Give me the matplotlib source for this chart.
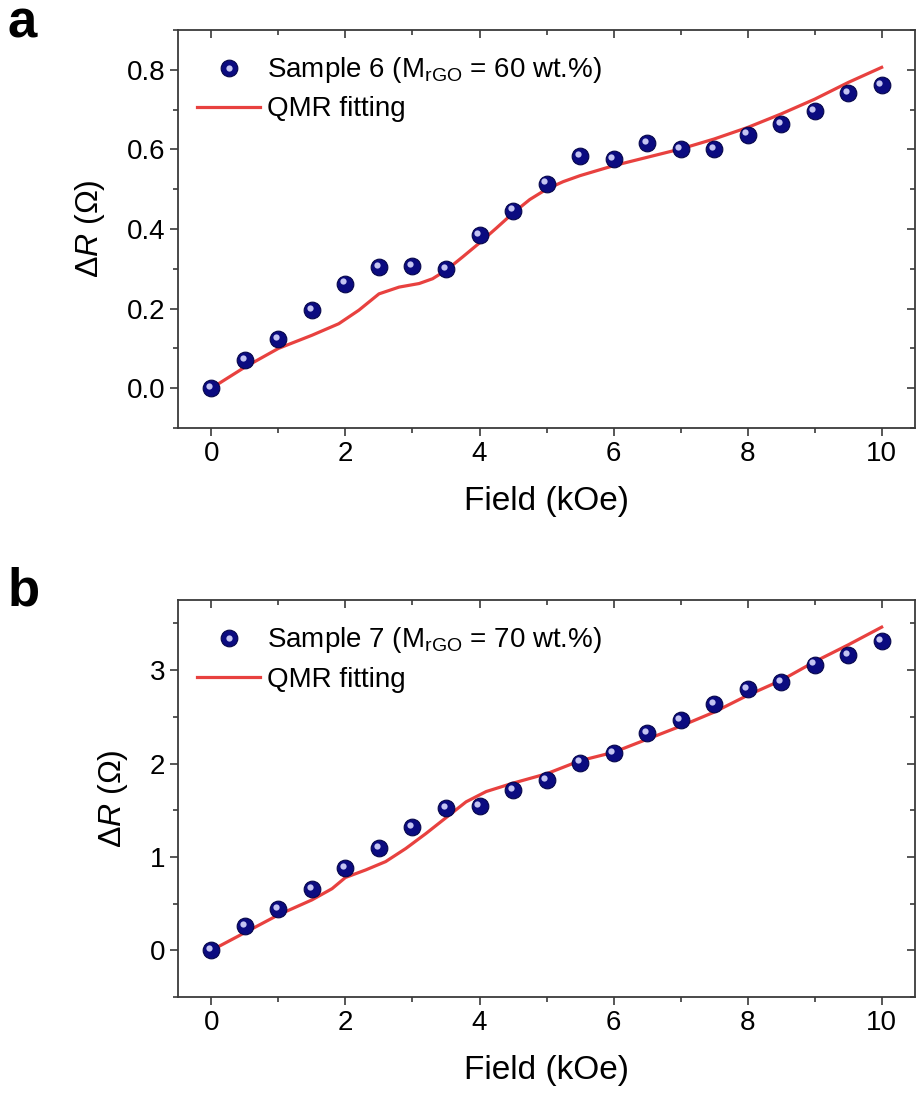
import matplotlib
matplotlib.use("Agg")
import matplotlib.pyplot as plt
import matplotlib.transforms as mtransforms
from matplotlib.lines import Line2D
from matplotlib.legend_handler import HandlerTuple
from matplotlib.ticker import MultipleLocator

plt.rcParams["font.family"] = ["Liberation Sans", "DejaVu Sans"]
plt.rcParams["mathtext.fontset"] = "custom"
plt.rcParams["mathtext.rm"] = "Liberation Sans"
plt.rcParams["mathtext.it"] = "Liberation Sans:italic"
plt.rcParams["mathtext.bf"] = "Liberation Sans:bold"

# Measured magnetoresistance (field in kOe, resistance change in ohm)
field = [0, 0.5, 1, 1.5, 2, 2.5, 3, 3.5, 4, 4.5, 5,
         5.5, 6, 6.5, 7, 7.5, 8, 8.5, 9, 9.5, 10]
dr_s6 = [0.0, 0.070, 0.123, 0.196, 0.263, 0.304, 0.306, 0.300, 0.384, 0.446, 0.514,
         0.584, 0.575, 0.616, 0.601, 0.601, 0.637, 0.664, 0.697, 0.741, 0.762]
dr_s7 = [0.0, 0.26, 0.443, 0.657, 0.879, 1.093, 1.318, 1.522, 1.54, 1.718, 1.82,
         2.01, 2.11, 2.325, 2.468, 2.636, 2.797, 2.872, 3.058, 3.158, 3.308]

# QMR fitting curves
fit_x6 = [0, 0.5, 1.0, 1.5, 1.9, 2.2, 2.5, 2.8, 3.1, 3.3, 3.5, 3.75, 4.0, 4.25,
          4.5, 4.75, 5.0, 5.25, 5.5, 6.0, 6.5, 7.0, 7.5, 8.0, 8.5, 9.0, 9.5, 10.0]
fit_y6 = [0.0, 0.053, 0.100, 0.133, 0.162, 0.196, 0.237, 0.254, 0.263, 0.275, 0.296,
          0.330, 0.365, 0.402, 0.440, 0.474, 0.500, 0.519, 0.534, 0.559, 0.580, 0.601,
          0.626, 0.655, 0.689, 0.726, 0.768, 0.806]
fit_x7 = [0, 0.5, 1.0, 1.5, 1.8, 2.0, 2.3, 2.6, 2.9, 3.2, 3.5, 3.8, 4.1, 4.5,
          5.0, 5.5, 6.0, 6.5, 7.0, 7.5, 8.0, 8.5, 9.0, 9.5, 10.0]
fit_y7 = [0.0, 0.19, 0.38, 0.54, 0.66, 0.78, 0.86, 0.95, 1.09, 1.25, 1.42, 1.59,
          1.70, 1.79, 1.89, 2.03, 2.12, 2.26, 2.40, 2.55, 2.73, 2.89, 3.09, 3.27, 3.46]

labels = ["Sample 6 (M$_{\\rm rGO}$ = 60 wt.%)", "Sample 7 (M$_{\\rm rGO}$ = 70 wt.%)"]

NAVY = "#0b0b80"
EDGE = "#06064a"
SHINE = "#c4c4f2"
RED = "#e8413f"
SPINE = "#3a3a3a"

fig = plt.figure(figsize=(9.17, 10.93), dpi=100)
ax_a = fig.add_axes([0.194, 0.6084, 0.804, 0.3642])
ax_b = fig.add_axes([0.194, 0.0878, 0.804, 0.3632])


def style_axes(ax, ylim, ymajor, yminor, yfmt):
    ax.set_xlim(-0.5, 10.5)
    ax.set_ylim(*ylim)
    ax.xaxis.set_major_locator(MultipleLocator(2))
    ax.xaxis.set_minor_locator(MultipleLocator(1))
    ax.yaxis.set_major_locator(MultipleLocator(ymajor))
    ax.yaxis.set_minor_locator(MultipleLocator(yminor))
    ax.yaxis.set_major_formatter(yfmt)
    for s in ax.spines.values():
        s.set_color(SPINE)
        s.set_linewidth(1.3)
    ax.tick_params(which="both", direction="out", color=SPINE, width=1.2,
                   labelsize=20, top=False, right=False, pad=3)
    ax.tick_params(which="major", length=6)
    ax.tick_params(which="minor", length=3.5)
    # inward mirrored ticks on top and right
    top = ax.secondary_xaxis("top")
    top.xaxis.set_major_locator(MultipleLocator(2))
    top.xaxis.set_minor_locator(MultipleLocator(1))
    top.tick_params(which="both", direction="in", color=SPINE, width=1.2, labeltop=False)
    top.tick_params(which="major", length=6)
    top.tick_params(which="minor", length=3.5)
    top.spines["top"].set_visible(False)
    right = ax.secondary_yaxis("right")
    right.yaxis.set_major_locator(MultipleLocator(ymajor))
    right.yaxis.set_minor_locator(MultipleLocator(yminor))
    right.tick_params(which="both", direction="in", color=SPINE, width=1.2, labelright=False)
    right.tick_params(which="major", length=6)
    right.tick_params(which="minor", length=3.5)
    right.spines["right"].set_visible(False)
    ax.set_xlabel("Field (kOe)", fontsize=24, labelpad=14)
    ax.set_ylabel("$\\mathit{\\Delta R}$ (Ω)", fontsize=23, labelpad=14)


def draw_panel(ax, y, fx, fy, label):
    shine_tr = mtransforms.offset_copy(ax.transData, fig=fig, x=-1.6, y=1.6, units="points")
    line, = ax.plot(fx, fy, color=RED, lw=2.3, zorder=2)
    ax.plot(field, y, ls="none", marker="o", ms=12, mfc=NAVY, mec=EDGE, mew=0.8, zorder=3)
    ax.plot(field, y, ls="none", marker="o", ms=4.5, mfc=SHINE, mec="none",
            transform=shine_tr, zorder=4)
    h_ball = Line2D([], [], ls="none", marker="o", ms=12, mfc=NAVY, mec=EDGE, mew=0.8)
    h_shine = Line2D([], [], ls="none", marker="o", ms=4.5, mfc=SHINE, mec="none")
    ax.legend([(h_ball, h_shine), line], [label, "QMR fitting"],
              handler_map={tuple: HandlerTuple(ndivide=1)},
              loc="upper left", bbox_to_anchor=(0.0, 0.985), frameon=False,
              fontsize=20, handlelength=2.25, handletextpad=0.25, labelspacing=0.4,
              borderaxespad=0.3)


style_axes(ax_a, (-0.1, 0.9), 0.2, 0.1, "{x:.1f}")
style_axes(ax_b, (-0.5, 3.75), 1, 0.5, "{x:.0f}")
draw_panel(ax_a, dr_s6, fit_x6, fit_y6, labels[0])
draw_panel(ax_b, dr_s7, fit_x7, fit_y7, labels[1])

fig.text(0.008, 0.966, "a", fontsize=38, fontweight="bold", va="baseline")
fig.text(0.008, 0.446, "b", fontsize=38, fontweight="bold", va="baseline")

fig.savefig("out.png", dpi=100)
